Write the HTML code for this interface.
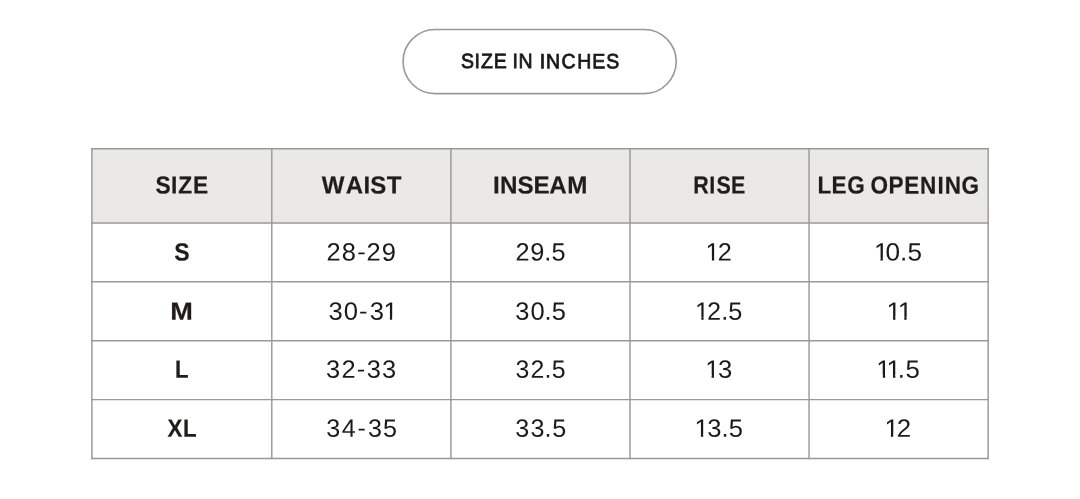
<!DOCTYPE html>
<html lang="en">
<head>
<meta charset="utf-8">
<title>Size Chart</title>
<style>
html,body{margin:0;padding:0;background:#ffffff;}
body{width:1080px;height:499px;overflow:hidden;}
svg{position:absolute;left:0;top:0;display:block;font-family:"Liberation Sans",sans-serif;text-rendering:geometricPrecision;}
.grid line{stroke:#999999;stroke-width:1.45;}
text{white-space:pre;}
.btn{font-weight:400;font-size:20.65px;fill:#1b1a1a;stroke:#1b1a1a;stroke-width:0.8;}
.hdr{font-weight:700;font-size:24.7px;fill:#1f1c1b;stroke:#1f1c1b;stroke-width:0.2;}
.lbl{font-weight:700;font-size:24.85px;fill:#1f1c1b;stroke:#1f1c1b;stroke-width:0.2;}
.num{font-weight:400;font-size:25px;fill:#1b1a1a;}
</style>
</head>
<body>
<svg width="1080" height="499" viewBox="0 0 1080 499">
<defs>
<clipPath id="c-r0c3" clipPathUnits="userSpaceOnUse"><path clip-rule="evenodd" d="M-20,-40H260V20H-20ZM0.70,-2.87H6.25V1.50H0.70ZM8.54,-2.87H13.06V1.50H8.54Z"/></clipPath>
<clipPath id="c-r0c4" clipPathUnits="userSpaceOnUse"><path clip-rule="evenodd" d="M-20,-40H260V20H-20ZM0.70,-2.87H6.25V1.50H0.70ZM8.54,-2.87H13.28V1.50H8.54Z"/></clipPath>
<clipPath id="c-r1c1" clipPathUnits="userSpaceOnUse"><path clip-rule="evenodd" d="M-20,-40H260V20H-20ZM54.32,-2.87H59.87V1.50H54.32ZM62.16,-2.87H67.50V1.50H62.16Z"/></clipPath>
<clipPath id="c-r1c3" clipPathUnits="userSpaceOnUse"><path clip-rule="evenodd" d="M-20,-40H260V20H-20ZM0.70,-2.87H6.25V1.50H0.70ZM8.54,-2.87H13.09V1.50H8.54Z"/></clipPath>
<clipPath id="c-r1c4" clipPathUnits="userSpaceOnUse"><path clip-rule="evenodd" d="M-20,-40H260V20H-20ZM0.70,-2.87H6.25V1.50H0.70ZM8.54,-2.87H16.89V1.50H8.54ZM19.18,-2.87H24.53V1.50H19.18Z"/></clipPath>
<clipPath id="c-r2c3" clipPathUnits="userSpaceOnUse"><path clip-rule="evenodd" d="M-20,-40H260V20H-20ZM0.70,-2.87H6.25V1.50H0.70ZM8.54,-2.87H13.88V1.50H8.54Z"/></clipPath>
<clipPath id="c-r2c4" clipPathUnits="userSpaceOnUse"><path clip-rule="evenodd" d="M-20,-40H260V20H-20ZM0.70,-2.87H6.25V1.50H0.70ZM8.54,-2.87H16.16V1.50H8.54ZM18.45,-2.87H22.99V1.50H18.45Z"/></clipPath>
<clipPath id="c-r3c3" clipPathUnits="userSpaceOnUse"><path clip-rule="evenodd" d="M-20,-40H260V20H-20ZM0.70,-2.87H6.25V1.50H0.70ZM8.54,-2.87H13.88V1.50H8.54Z"/></clipPath>
<clipPath id="c-r3c4" clipPathUnits="userSpaceOnUse"><path clip-rule="evenodd" d="M-20,-40H260V20H-20ZM0.70,-2.87H6.25V1.50H0.70ZM8.54,-2.87H12.98V1.50H8.54Z"/></clipPath>
</defs>
<g class="pill">
<rect x="403.05" y="29.5" width="273.15" height="64.1" rx="32.05" ry="32.05" fill="#ffffff" stroke="#999999" stroke-width="1.6"/>
<text class="btn" id="btn" x="0.00 14.32 21.00 34.65 48.43 54.43 60.77 75.69 83.28 89.97 106.30 123.05 138.83 153.84" y="0" transform="translate(461.05,68.06) scale(0.9443,1) skewY(0.05)">SIZE IN INCHES</text>
</g>
<g class="grid">
<rect x="91.90" y="148.70" width="896.25" height="74.30" fill="#ebe9e6"/>
<line x1="91.90" y1="147.975" x2="91.90" y2="459.175"/>
<line x1="271.80" y1="147.975" x2="271.80" y2="459.175"/>
<line x1="450.90" y1="147.975" x2="450.90" y2="459.175"/>
<line x1="630.00" y1="147.975" x2="630.00" y2="459.175"/>
<line x1="809.05" y1="147.975" x2="809.05" y2="459.175"/>
<line x1="988.15" y1="147.975" x2="988.15" y2="459.175"/>
<line x1="91.175" y1="148.70" x2="988.875" y2="148.70"/>
<line x1="91.175" y1="223.00" x2="988.875" y2="223.00"/>
<line x1="91.175" y1="281.80" x2="988.875" y2="281.80"/>
<line x1="91.175" y1="340.75" x2="988.875" y2="340.75"/>
<line x1="91.175" y1="399.60" x2="988.875" y2="399.60"/>
<line x1="91.175" y1="458.45" x2="988.875" y2="458.45"/>
</g>
<g class="head">
<text class="hdr" id="h0" x="0.00 16.74 24.65 40.56" y="0" transform="translate(155.56,193.55) scale(0.9223,1) skewY(0.05)">SIZE</text>
<text class="hdr" id="h1" x="0.00 24.65 43.01 49.90 66.75" y="0" transform="translate(321.70,193.55) scale(0.9741,1) skewY(0.05)">WAIST</text>
<text class="hdr" id="h2" x="0.00 7.12 25.06 41.31 57.53 75.78" y="0" transform="translate(492.97,193.55) scale(0.9795,1) skewY(0.05)">INSEAM</text>
<text class="hdr" id="h3" x="0.00 18.52 26.75 43.43" y="0" transform="translate(693.25,193.55) scale(0.8687,1) skewY(0.05)">RISE</text>
<text class="hdr" id="h4" x="0.00 15.37 32.79 52.00 58.23 77.86 95.22 112.40 131.64 139.60 158.10" y="0" transform="translate(817.41,193.55) scale(0.9119,1) skewY(0.05)">LEG OPENING</text>
</g>
<g class="row">
<text class="lbl" id="r0c0" x="0.00" y="0" transform="translate(174.33,260.58) scale(0.9279,1) skewY(0.05)">S</text>
<text class="num" id="r0c1" x="0.00 14.95 30.17 39.34 54.11" y="0 0 -0.5 0 0" transform="translate(326.48,260.58) scale(1.0199,1) skewY(0.05)">28-29</text>
<text class="num" id="r0c2" x="0.00 14.64 28.53 35.76" y="0" transform="translate(515.39,260.58) scale(1.0132,1) skewY(0.05)">29.5</text>
<text class="num" id="r0c3" x="0.00 11.95" y="0" transform="translate(705.56,260.58) scale(1.0143,1) skewY(0.05)" clip-path="url(#c-r0c3)">12</text>
<text class="num" id="r0c4" x="0.00 11.04 24.96 32.02" y="0" transform="translate(873.88,260.58) scale(1.0466,1) skewY(0.05)" clip-path="url(#c-r0c4)">10.5</text>
</g>
<g class="row">
<text class="lbl" id="r1c0" x="0.00" y="0" transform="translate(170.29,319.66) scale(1.0924,1) skewY(0.05)">M</text>
<text class="num" id="r1c1" x="0.00 14.92 29.73 40.32 53.62" y="0 0 -0.5 0 0" transform="translate(328.45,319.66) scale(1.0250,1) skewY(0.05)" clip-path="url(#c-r1c1)">30-31</text>
<text class="num" id="r1c2" x="0.00 14.93 28.69 35.72" y="0" transform="translate(515.34,319.66) scale(1.0195,1) skewY(0.05)">30.5</text>
<text class="num" id="r1c3" x="0.00 11.98 25.88 32.94" y="0" transform="translate(695.01,319.66) scale(1.0115,1) skewY(0.05)" clip-path="url(#c-r1c3)">12.5</text>
<text class="num" id="r1c4" x="0.00 10.65" y="0" transform="translate(886.46,319.66) scale(1.0515,1) skewY(0.05)" clip-path="url(#c-r1c4)">11</text>
</g>
<g class="row">
<text class="lbl" id="r2c0" x="0.00" y="0" transform="translate(174.91,377.78) scale(0.8917,1) skewY(0.05)">L</text>
<text class="num" id="r2c1" x="0.00 15.08 30.20 40.06 54.99" y="0 0 -0.5 0 0" transform="translate(326.11,377.78) scale(1.0177,1) skewY(0.05)">32-33</text>
<text class="num" id="r2c2" x="0.00 15.21 29.18 36.53" y="0" transform="translate(515.51,377.78) scale(0.9937,1) skewY(0.05)">32.5</text>
<text class="num" id="r2c3" x="0.00 12.53" y="0" transform="translate(705.15,377.78) scale(1.0282,1) skewY(0.05)" clip-path="url(#c-r2c3)">13</text>
<text class="num" id="r2c4" x="0.00 9.91 20.86 28.21" y="0" transform="translate(876.35,377.78) scale(1.0308,1) skewY(0.05)" clip-path="url(#c-r2c4)">11.5</text>
</g>
<g class="row">
<text class="lbl" id="r3c0" x="0.00 17.32" y="0" transform="translate(167.57,436.64) scale(0.8979,1) skewY(0.05)">XL</text>
<text class="num" id="r3c1" x="0.00 15.26 30.89 41.25 56.24" y="0 0 -0.5 0 0" transform="translate(326.37,436.64) scale(1.0064,1) skewY(0.05)">34-35</text>
<text class="num" id="r3c2" x="0.00 15.33 29.21 36.94" y="0" transform="translate(515.20,436.64) scale(1.0058,1) skewY(0.05)">33.5</text>
<text class="num" id="r3c3" x="0.00 12.42 26.28 33.59" y="0" transform="translate(694.50,436.64) scale(1.0234,1) skewY(0.05)" clip-path="url(#c-r3c3)">13.5</text>
<text class="num" id="r3c4" x="0.00 11.87" y="0" transform="translate(884.43,436.64) scale(1.0343,1) skewY(0.05)" clip-path="url(#c-r3c4)">12</text>
</g>
</svg>
</body>
</html>
